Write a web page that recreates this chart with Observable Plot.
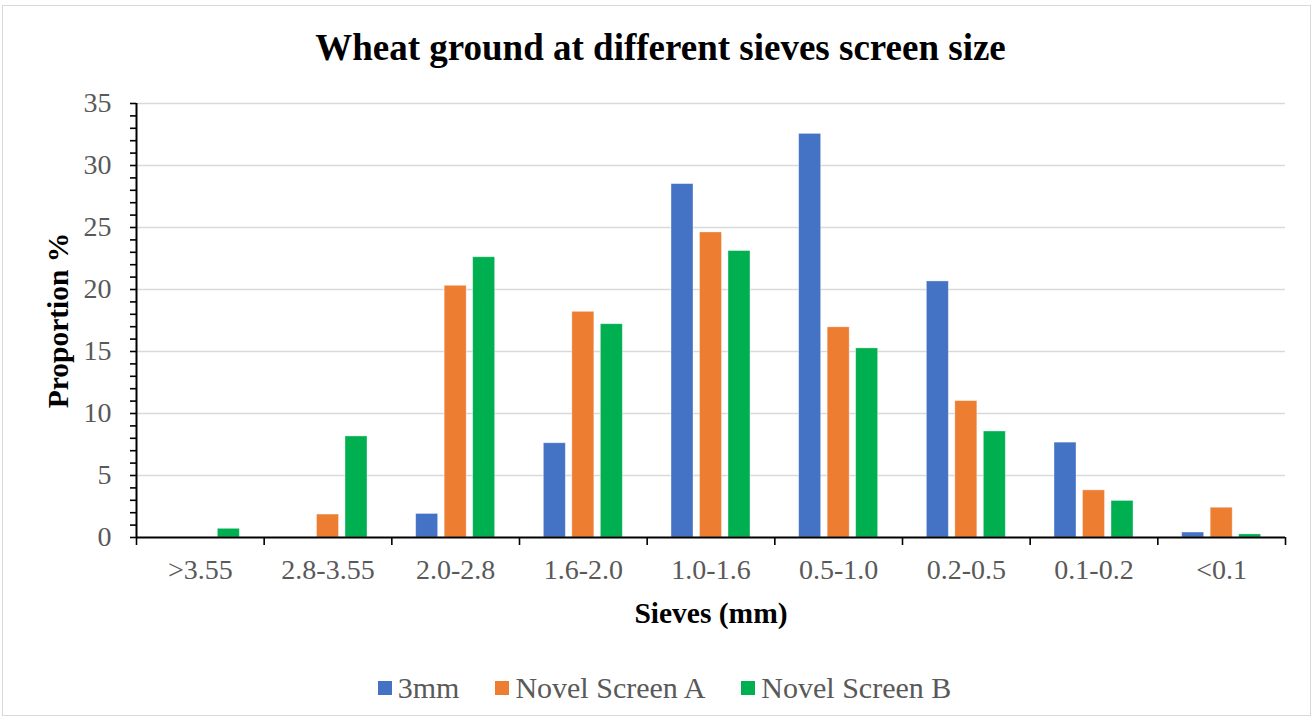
<!DOCTYPE html>
<html>
<head>
<meta charset="utf-8">
<script src="https://cdn.jsdelivr.net/npm/d3@7"></script>
<script src="https://cdn.jsdelivr.net/npm/@observablehq/plot@0.6"></script>
<style>
  html, body { margin: 0; padding: 0; background: #fff; }
  body { width: 1315px; height: 721px; position: relative; overflow: hidden; font-family: "Liberation Serif", "DejaVu Serif", serif; }
  #frame { position: absolute; left: 2px; top: 5px; width: 1309px; height: 711px; border: 1.5px solid #d9d9d9; box-sizing: border-box; }
  #title { position: absolute; left: 0; top: 29px; width: 1321px; text-align: center; font-family: "Liberation Serif", "DejaVu Serif", serif; font-size: 37px; line-height: 37px; font-weight: bold; color: #000; }
  #chart { position: absolute; left: 0; top: 80px; }
  #legend { position: absolute; left: 0; top: 672px; width: 1329px; display: flex; justify-content: center; align-items: center; gap: 36px; font-family: "Liberation Serif", "DejaVu Serif", serif; font-size: 30px; line-height: 32px; color: #595959; }
  .item { display: flex; align-items: center; gap: 6px; }
  .sw { width: 14px; height: 14px; display: inline-block; }
</style>
</head>
<body>
<div id="frame"></div>
<div id="title">Wheat ground at different sieves screen size</div>
<div id="chart"></div>
<div id="legend"></div>
<script>
const categories = [">3.55", "2.8-3.55", "2.0-2.8", "1.6-2.0", "1.0-1.6", "0.5-1.0", "0.2-0.5", "0.1-0.2", "<0.1"];
const seriesNames = ["3mm", "Novel Screen A", "Novel Screen B"];
const colors = ["#4472C4", "#ED7D31", "#00B050"];
const values3mm    = [0,   0,   1.9,  7.6, 28.5, 32.55, 20.65, 7.65, 0.4];
const valuesNovelA = [0,   1.85, 20.3, 18.2, 24.6, 16.95, 11.0, 3.8,  2.4];
const valuesNovelB = [0.7, 8.15, 22.6, 17.2, 23.1, 15.25, 8.55, 2.95, 0.25];
const yTicks = d3.range(0, 36, 5);

const seriesValues = [values3mm, valuesNovelA, valuesNovelB];
const rows = [];
categories.forEach((c, i) => {
  seriesNames.forEach((s, j) => rows.push({cat: c, idx: i, series: s, sIdx: j, value: seriesValues[j][i]}));
});

const STEP = 0.2232, BW = 0.1723;
const center = d => d.idx + 0.5 + (d.sIdx - 1) * STEP;
const FONT = "Liberation Serif, DejaVu Serif, serif";

const plot = Plot.plot({
  width: 1315,
  height: 560,
  marginLeft: 136,
  marginRight: 30,
  marginTop: 23,
  marginBottom: 103,
  style: {fontFamily: FONT, background: "transparent", overflow: "visible"},
  x: {domain: [0, categories.length], axis: null},
  y: {domain: [0, 35], axis: null},
  color: {domain: seriesNames, range: colors},
  marks: [
    Plot.gridY(yTicks.filter(d => d > 0), {stroke: "#d9d9d9", strokeOpacity: 1, strokeWidth: 1.5}),
    Plot.rectY(rows, {
      x1: d => center(d) - BW / 2,
      x2: d => center(d) + BW / 2,
      y: "value",
      fill: "series",
      stroke: "white",
      strokeOpacity: 0.45,
      strokeWidth: 0.8
    }),
    Plot.ruleY([0], {stroke: "black", strokeWidth: 2}),
    Plot.ruleX([0], {stroke: "black", strokeWidth: 2}),
    Plot.axisY(d3.range(0, 36), {tickSize: 6, tickFormat: () => "", stroke: "black", strokeWidth: 1.6, label: null}),
    Plot.axisY(yTicks, {tickSize: 0, tickPadding: 25, fontSize: 28, fontFamily: FONT, color: "#595959", label: null}),
    Plot.axisX(d3.range(0, categories.length + 1), {tickSize: 8, tickFormat: () => "", stroke: "black", strokeWidth: 1.6, label: null}),
    Plot.axisX(categories.map((c, i) => i + 0.5), {tickSize: 0, tickPadding: 22, fontSize: 28, fontFamily: FONT, color: "#595959", tickFormat: d => categories[Math.floor(d)], label: null}),
    Plot.text(["Sieves (mm)"], {frameAnchor: "bottom", dy: 85, fontSize: 29.5, fontFamily: FONT, fontWeight: "bold", fill: "black"}),
    Plot.text(["Proportion %"], {frameAnchor: "left", textAnchor: "middle", dx: -78, rotate: -90, fontSize: 29.5, fontFamily: FONT, fontWeight: "bold", fill: "black"})
  ]
});
document.getElementById("chart").appendChild(plot);

const legend = document.getElementById("legend");
seriesNames.forEach((s, j) => {
  const it = document.createElement("div");
  it.className = "item";
  const sw = document.createElement("span");
  sw.className = "sw";
  sw.style.background = colors[j];
  const tx = document.createElement("span");
  tx.textContent = s;
  it.appendChild(sw);
  it.appendChild(tx);
  legend.appendChild(it);
});
</script>
</body>
</html>
